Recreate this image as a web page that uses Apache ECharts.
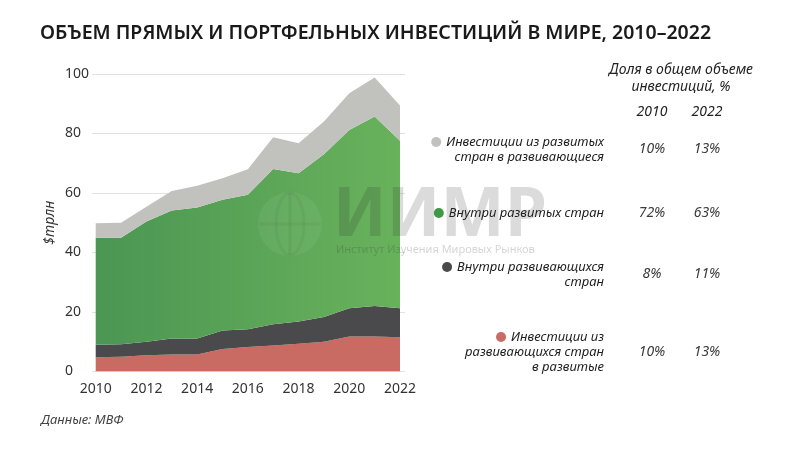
<!DOCTYPE html>
<html><head><meta charset="utf-8">
<script src="https://cdn.jsdelivr.net/npm/echarts@6/dist/echarts.min.js"></script>
<style>html,body{margin:0;padding:0;background:#fff}#c{width:800px;height:450px}</style>
</head><body><div id="c"></div>
<script>
const years = [2010,2011,2012,2013,2014,2015,2016,2017,2018,2019,2020,2021,2022];
const yTicks = [0,20,40,60,80,100];
const fromDevelopingToDeveloped = [4.8,5.0,5.5,5.7,5.7,7.6,8.2,8.7,9.3,10.0,11.8,11.8,11.5];
const withinDeveloping = [4.2,4.2,4.5,5.4,5.4,6.2,6.0,7.2,7.5,8.3,9.5,10.2,9.8];
const withinDeveloped = [36.0,35.8,40.4,43.0,44.0,43.9,45.2,52.2,49.8,54.7,59.9,63.7,56.3];
const fromDevelopedToDeveloping = [4.8,5.0,5.0,6.6,7.3,7.3,8.6,10.6,10.1,11.0,12.3,13.1,11.8];
const legendNames = [
  ['Инвестиции из развитых','стран в развивающиеся'],
  ['Внутри развитых стран'],
  ['Внутри развивающихся','стран'],
  ['Инвестиции из','развивающихся стран','в развитые']
];
const share2010 = ['10%','72%','8%','10%'];
const share2022 = ['13%','63%','11%','13%'];
const colors = {gray:'#c1c2be', green:'#55a257', dark:'#4a4a4c', red:'#c96b63'};

const FONT = '"Noto Sans", sans-serif';
const chart = echarts.init(document.getElementById('c'));

function areaSeries(name, arr, color){
  return {name, type:'line', stack:'total', data:arr, symbol:'none', xAxisIndex:1, yAxisIndex:1,
    lineStyle:{width:0}, areaStyle:{color, opacity:1}, silent:true, z:2};
}

const greenGrad = new echarts.graphic.LinearGradient(0,0,1,0,[
  {offset:0,color:'#4b9653'},{offset:1,color:'#69b25c'}]);

const graphics = [];
// watermark
graphics.push({type:'circle', shape:{cx:290,cy:224,r:32}, style:{fill:'rgba(255,255,255,0.06)'}, z:10, silent:true});
graphics.push({type:'ellipse', shape:{cx:290,cy:224,rx:14,ry:31}, style:{fill:'none',stroke:'rgba(0,0,0,0.04)',lineWidth:3}, z:10, silent:true});
graphics.push({type:'line', shape:{x1:259,y1:224,x2:321,y2:224}, style:{stroke:'rgba(0,0,0,0.04)',lineWidth:3}, z:10, silent:true});
graphics.push({type:'line', shape:{x1:290,y1:193,x2:290,y2:255}, style:{stroke:'rgba(0,0,0,0.04)',lineWidth:3}, z:10, silent:true});
graphics.push({type:'text', left:333, top:183, style:{text:'ИИМР', font:'bold 68px "Noto Sans", sans-serif', fill:'rgba(40,40,40,0.17)'}, z:10, silent:true});
graphics.push({type:'text', left:336, top:244, style:{text:'Институт Изучения Мировых Рынков', font:'11px "Noto Sans", sans-serif', fill:'rgba(40,40,40,0.2)'}, z:10, silent:true});

graphics.push({type:'text', x:681, y:70, style:{text:'Доля в общем объеме', font:'italic 14px '+FONT, fill:'#222', align:'center', verticalAlign:'middle'}});
graphics.push({type:'text', x:681, y:87, style:{text:'инвестиций, %', font:'italic 14px '+FONT, fill:'#222', align:'center', verticalAlign:'middle'}});
graphics.push({type:'text', x:652, y:112, style:{text:String(years[0]), font:'italic 14px '+FONT, fill:'#222', align:'center', verticalAlign:'middle'}});
graphics.push({type:'text', x:707, y:112, style:{text:String(years[years.length-1]), font:'italic 14px '+FONT, fill:'#222', align:'center', verticalAlign:'middle'}});

const rowY = [142, 213, 267, 337];
const rowColors = [colors.gray, '#3e9846', colors.dark, colors.red];
const lineH = 15;
const cvs = document.createElement('canvas').getContext('2d');
cvs.font = 'italic 13px '+FONT;
legendNames.forEach((lines, i) => {
  const y0 = rowY[i];
  lines.forEach((t, j) => {
    graphics.push({type:'text', x:604, y:y0 + j*lineH, style:{text:t, font:'italic 13px '+FONT, fill:'#1e1e1e', align:'right', verticalAlign:'middle'}});
  });
  const w = cvs.measureText(lines[0]).width;
  graphics.push({type:'circle', shape:{cx:604 - w - 10, cy:y0, r:5}, style:{fill:rowColors[i]}});
  const pctY = y0 + (lines.length-1)*lineH/2;
  graphics.push({type:'text', x:652, y:pctY, style:{text:share2010[i], font:'italic 14px '+FONT, fill:'#3a3a3a', align:'center', verticalAlign:'middle'}});
  graphics.push({type:'text', x:707, y:pctY, style:{text:share2022[i], font:'italic 14px '+FONT, fill:'#3a3a3a', align:'center', verticalAlign:'middle'}});
});

graphics.push({type:'text', left:40, top:23, style:{text:'ОБЪЕМ ПРЯМЫХ И ПОРТФЕЛЬНЫХ ИНВЕСТИЦИЙ В МИРЕ, 2010–2022', font:'600 19.5px '+FONT, fill:'#1a1a1a'}});
graphics.push({type:'text', left:41, top:414, style:{text:'Данные: МВФ', font:'italic 13px '+FONT, fill:'#444'}});

chart.setOption({
  animation:false,
  backgroundColor:'#fff',
  grid:[
    {left:92, right:395, top:74, bottom:78.5},
    {left:95.7, right:400, top:74, bottom:78.5}
  ],
  xAxis:[
    {type:'category', gridIndex:0, data:years, show:false},
    {type:'category', gridIndex:1, data:years, boundaryGap:false,
      axisLine:{show:false}, axisTick:{show:false}, splitLine:{show:false},
      axisLabel:{interval:1, color:'#333', fontSize:14, fontFamily:FONT, margin:11}}
  ],
  yAxis:[
    {type:'value', gridIndex:0, min:0, max:100, interval:20,
      name:'$трлн', nameLocation:'middle', nameRotate:90, nameGap:35,
      nameTextStyle:{fontStyle:'italic', fontSize:14, color:'#333', fontFamily:FONT},
      axisLine:{show:false}, axisTick:{show:false},
      splitLine:{lineStyle:{color:'#e2e2e2', width:1}},
      axisLabel:{align:'left', margin:27, color:'#333', fontSize:14, fontFamily:FONT, verticalAlign:'middle', padding:[0,0,10,0]}},
    {type:'value', gridIndex:1, min:0, max:100, interval:20, show:false, splitLine:{show:false}}
  ],
  series:[
    areaSeries('Инвестиции из развивающихся стран в развитые', fromDevelopingToDeveloped, colors.red),
    areaSeries('Внутри развивающихся стран', withinDeveloping, colors.dark),
    areaSeries('Внутри развитых стран', withinDeveloped, greenGrad),
    areaSeries('Инвестиции из развитых стран в развивающиеся', fromDevelopedToDeveloping, colors.gray)
  ],
  graphic:graphics
});
</script></body></html>
